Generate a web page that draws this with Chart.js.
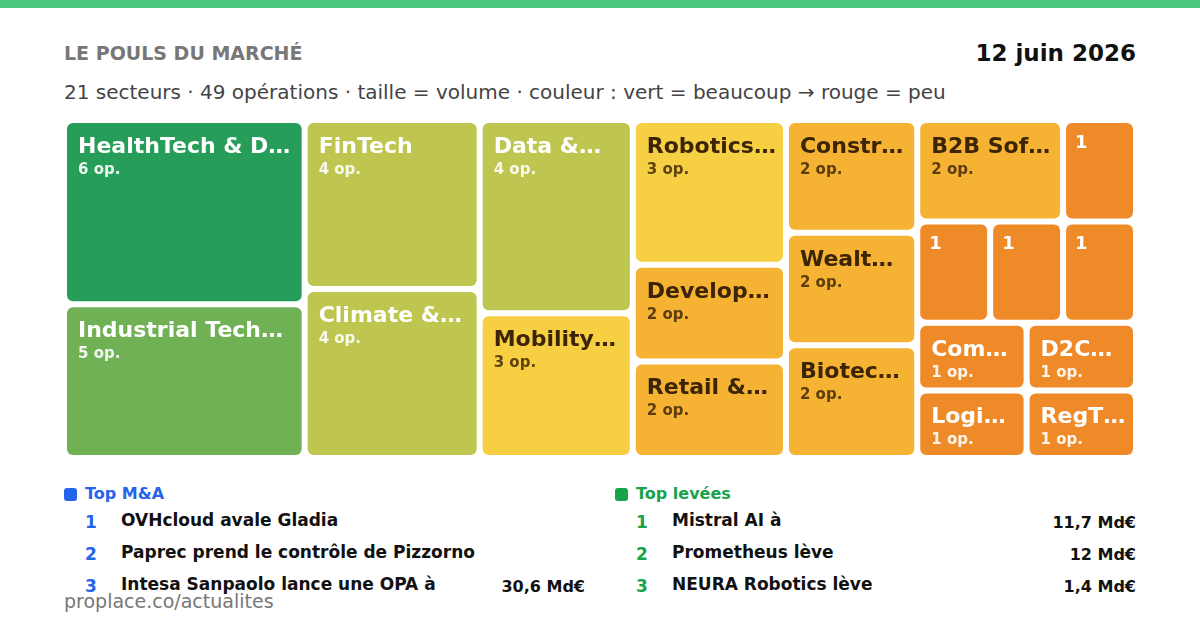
<!DOCTYPE html>
<html lang="fr">
<head>
<meta charset="utf-8">
<script src="https://cdn.jsdelivr.net/npm/chart.js@4/dist/chart.umd.min.js"></script>
<style>
  html, body { margin: 0; padding: 0; background: #fff; }
  body { width: 1200px; height: 630px; position: relative; overflow: hidden; font-family: "DejaVu Sans", sans-serif; }
  .stripe { position: absolute; left: 0; top: 0; width: 1200px; height: 8px; background: #4bc77f; }
  .t { position: absolute; line-height: 1; white-space: nowrap; }
  #title { left: 64px; top: 44px; font-size: 19px; font-weight: bold; color: #777; }
  #date { right: 64px; top: 41.5px; font-size: 23px; font-weight: bold; color: #111; }
  #sub { left: 64px; top: 82px; font-size: 20px; color: #444; }
  #foot { left: 64px; top: 592px; font-size: 19px; color: #777; }
  #wrap { position: absolute; left: 64px; top: 120px; width: 1072px; height: 338px; }
  .head { position: absolute; top: 486px; font-size: 16px; font-weight: bold; line-height: 1; white-space: nowrap; }
  .mark { position: absolute; width: 13px; height: 13px; border-radius: 3px; }
  .num, .txt { position: absolute; font-size: 17px; font-weight: bold; line-height: 1; white-space: nowrap; }
  .val { position: absolute; font-size: 16px; font-weight: bold; line-height: 1; white-space: nowrap; }
  .txt, .val { color: #111; }
</style>
</head>
<body>
<div class="stripe"></div>
<div class="t" id="title"></div>
<div class="t" id="date"></div>
<div class="t" id="sub"></div>
<div id="wrap"><canvas id="c" width="1072" height="338"></canvas></div>
<div id="lists"></div>
<div class="t" id="foot"></div>
<script>
// ---------- DATA ----------
const titleText = "LE POULS DU MARCHÉ";
const dateText = "12 juin 2026";
const subtitleText = "21 secteurs · 49 opérations · taille = volume · couleur : vert = beaucoup → rouge = peu";
const footerText = "proplace.co/actualites";

const sectors = [
  "HealthTech & D…", "Industrial Tech…", "FinTech", "Climate &…", "Data &…",
  "Mobility…", "Robotics…", "Develop…", "Retail &…", "Constr…", "Wealt…", "Biotec…",
  "B2B Sof…", "Secteur 14", "Secteur 15", "Secteur 16", "Secteur 17",
  "Com…", "Logi…", "D2C…", "RegT…"
];
const operations = [6, 5, 4, 4, 4, 3, 3, 2, 2, 2, 2, 2, 2, 1, 1, 1, 1, 1, 1, 1, 1];

const maTitle = "Top M&A";
const maDeals = ["OVHcloud avale Gladia", "Paprec prend le contrôle de Pizzorno", "Intesa Sanpaolo lance une OPA à"];
const maValues = ["", "", "30,6 Md€"];

const raiseTitle = "Top levées";
const raiseDeals = ["Mistral AI à", "Prometheus lève", "NEURA Robotics lève"];
const raiseValues = ["11,7 Md€", "12 Md€", "1,4 Md€"];

// ---------- STYLE ----------
const FONT = '"DejaVu Sans", sans-serif';
const palette = {6: '#269e5a', 5: '#70b155', 4: '#bec64f', 3: '#f7cf43', 2: '#f5b233', 1: '#ee8a28'};
const darkText = {3: true, 2: true};

document.getElementById('title').textContent = titleText;
document.getElementById('date').textContent = dateText;
document.getElementById('sub').textContent = subtitleText;
document.getElementById('foot').textContent = footerText;

function buildList(left, color, title, deals, values) {
  const lists = document.getElementById('lists');
  const m = document.createElement('div'); m.className = 'mark';
  m.style.left = left + 'px'; m.style.top = '488px'; m.style.background = color; lists.appendChild(m);
  const h = document.createElement('div'); h.className = 'head';
  h.style.left = (left + 21) + 'px'; h.style.color = color; h.textContent = title; lists.appendChild(h);
  deals.forEach((d, i) => {
    const top = 512 + i * 32;
    const n = document.createElement('div'); n.className = 'num';
    n.style.left = (left + 21) + 'px'; n.style.top = (top + 2) + 'px'; n.style.color = color; n.textContent = String(i + 1);
    lists.appendChild(n);
    const t = document.createElement('div'); t.className = 'txt';
    t.style.left = (left + 57) + 'px'; t.style.top = top + 'px'; t.textContent = d; lists.appendChild(t);
    if (values[i]) {
      const v = document.createElement('div'); v.className = 'val';
      v.style.left = left + 'px'; v.style.width = '521px'; v.style.textAlign = 'right';
      v.style.top = (top + 3) + 'px'; v.textContent = values[i]; lists.appendChild(v);
    }
  });
}
buildList(64, '#2563eb', maTitle, maDeals, maValues);
buildList(615, '#16a34a', raiseTitle, raiseDeals, raiseValues);

// ---------- TREEMAP LAYOUT (squarified) ----------
function worst(row, side) {
  const s = row.reduce((a, b) => a + b, 0);
  let w = 0;
  for (const a of row) {
    w = Math.max(w, (side * side * a) / (s * s), (s * s) / (side * side * a));
  }
  return w;
}
function squarify(values, x, y, w, h) {
  const total = values.reduce((a, b) => a + b, 0);
  const areas = values.map(v => v * w * h / total);
  const rects = [];
  let i = 0;
  while (i < areas.length) {
    const side = Math.min(w, h);
    let row = [areas[i]];
    let best = worst(row, side);
    let j = i + 1;
    while (j < areas.length) {
      const r2 = row.concat(areas[j]);
      const wv = worst(r2, side);
      if (wv <= best + 1e-9) { row = r2; best = wv; j++; } else break;
    }
    const s = row.reduce((a, b) => a + b, 0);
    if (w >= h) {
      const cw = s / h; let yy = y;
      for (const a of row) { const rh = a / cw; rects.push({x: x, y: yy, w: cw, h: rh}); yy += rh; }
      x += cw; w -= cw;
    } else {
      const rh = s / w; let xx = x;
      for (const a of row) { const rw = a / rh; rects.push({x: xx, y: y, w: rw, h: rh}); xx += rw; }
      y += rh; h -= rh;
    }
    i = j;
  }
  return rects;
}

const treemapPlugin = {
  id: 'treemap',
  afterDatasetsDraw(chart) {
    const ctx = chart.ctx;
    const xs = chart.scales.x, ys = chart.scales.y;
    const ca = chart.chartArea;
    const W = ca.right - ca.left, H = ca.bottom - ca.top;
    // layout computed in the chart's aspect, expressed in scale units (0..1)
    const rects = squarify(operations, 0, 0, W, H).map(r => ({
      x0: r.x / W, x1: (r.x + r.w) / W, y0: r.y / H, y1: (r.y + r.h) / H
    }));
    const gap = 3;
    ctx.save();
    rects.forEach((r, i) => {
      const v = operations[i];
      const px0 = xs.getPixelForValue(r.x0) + gap, px1 = xs.getPixelForValue(r.x1) - gap;
      const py0 = ys.getPixelForValue(r.y0) + gap, py1 = ys.getPixelForValue(r.y1) - gap;
      ctx.beginPath();
      ctx.roundRect(px0, py0, px1 - px0, py1 - py0, 6);
      ctx.fillStyle = palette[v];
      ctx.fill();
      const dark = !!darkText[v];
      ctx.textAlign = 'left';
      ctx.textBaseline = 'alphabetic';
      if (px1 - px0 < 90) {
        ctx.fillStyle = '#ffffff';
        ctx.font = 'bold 18px ' + FONT;
        ctx.fillText(String(v), px0 + 9, py0 + 25);
      } else {
        ctx.fillStyle = dark ? '#3b2506' : '#ffffff';
        ctx.font = 'bold 22px ' + FONT;
        ctx.fillText(sectors[i], px0 + 11, py0 + 30);
        ctx.fillStyle = dark ? 'rgba(59,37,6,0.82)' : 'rgba(255,255,255,0.9)';
        ctx.font = 'bold 15px ' + FONT;
        ctx.fillText(v + ' op.', px0 + 11, py0 + 51);
      }
    });
    ctx.restore();
  }
};

new Chart(document.getElementById('c'), {
  type: 'scatter',
  data: { datasets: [{ data: [], pointRadius: 0 }] },
  options: {
    responsive: false,
    animation: false,
    devicePixelRatio: 1,
    layout: { padding: 0 },
    plugins: { legend: { display: false }, tooltip: { enabled: false } },
    scales: {
      x: { type: 'linear', min: 0, max: 1, display: false },
      y: { type: 'linear', min: 0, max: 1, reverse: true, display: false }
    }
  },
  plugins: [treemapPlugin]
});
</script>
</body>
</html>
